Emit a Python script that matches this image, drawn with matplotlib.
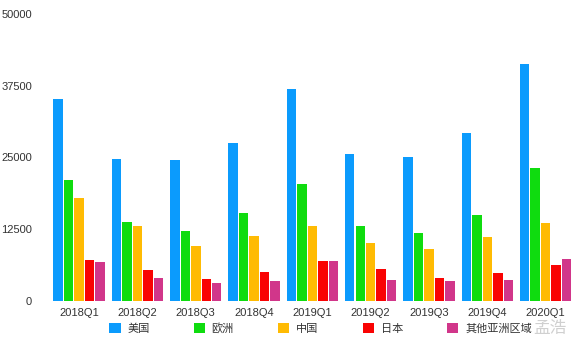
import matplotlib
matplotlib.use("Agg")
from matplotlib import pyplot as plt
import numpy as np

plt.rcParams['font.family'] = ['Liberation Sans', 'Noto Sans CJK SC', 'DejaVu Sans']

quarters = ["2018Q1", "2018Q2", "2018Q3", "2018Q4", "2019Q1", "2019Q2", "2019Q3", "2019Q4", "2020Q1"]
regions = ["美国", "欧洲", "中国", "日本", "其他亚洲区域"]

usa = [35300, 24800, 24600, 27600, 37050, 25650, 25150, 29350, 41400]
europe = [21100, 13800, 12200, 15350, 20400, 13050, 11850, 15000, 23200]
china = [17950, 13050, 9550, 11300, 13050, 10100, 9050, 11150, 13600]
japan = [7100, 5350, 3800, 5000, 6950, 5550, 3950, 4850, 6250]
other_asia = [6750, 3950, 3100, 3450, 6950, 3600, 3450, 3600, 7300]

colors = ["#0b9bfd", "#0fdc0f", "#ffbb03", "#f90303", "#d1368a"]

fig = plt.figure(figsize=(5.78, 3.42), dpi=100)
ax = fig.add_axes([0.0865, 0.121, 0.908, 0.837])

x = np.arange(len(quarters))
slot = 0.18
series = [usa, europe, china, japan, other_asia]
handles = []
for i, vals in enumerate(series):
    b = ax.bar(x - 0.36 + i * slot, vals, width=slot - 0.018, color=colors[i], label=regions[i])
    handles.append(b)

ax.set_xlim(-0.5, 8.5)
ax.set_ylim(0, 50000)
ax.set_yticks([0, 12500, 25000, 37500, 50000])
ax.set_xticks(x)
ax.set_xticklabels(quarters)
ax.tick_params(axis="both", length=0, labelsize=8, colors="#333333")
ax.tick_params(axis="y", pad=13)
ax.tick_params(axis="x", pad=5)
for s in ax.spines.values():
    s.set_visible(False)

fig.legend(handles=handles, labels=regions, loc="center left", bbox_to_anchor=(0.172, 0.04),
           ncol=5, frameon=False, fontsize=8, handlelength=1.0, handleheight=1.0,
           handletextpad=0.6, columnspacing=4.0, labelcolor="#333333")

# watermark
fig.text(0.922, 0.04, "孟浩", fontsize=12, color="#d0d0d0", ha="left", va="center")

fig.savefig("out.png", dpi=100)
